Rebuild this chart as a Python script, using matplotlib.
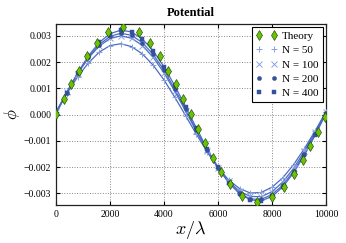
import matplotlib
matplotlib.use("Agg")
import matplotlib.pyplot as plt

# ---- data ----
theory_x = [12, 284, 556, 840, 1160, 1506, 1926, 2481, 3062, 3481, 3840, 4160, 4444,
            4716, 4988, 5259, 5519, 5802, 6111, 6457, 6877, 7432, 8012, 8457, 8802,
            9136, 9420, 9691, 9975]
theory_y = [0.00004, 0.00060, 0.00116, 0.00167, 0.00223, 0.00271, 0.00313, 0.00334,
            0.00313, 0.00271, 0.00223, 0.00167, 0.00116, 0.00060, 0.00004, -0.00055,
            -0.00108, -0.00164, -0.00218, -0.00266, -0.00310, -0.00334, -0.00316,
            -0.00276, -0.00228, -0.00175, -0.00121, -0.00068, -0.00011]

sim_x = [0, 400, 800, 1200, 1600, 2000, 2400, 2800, 3200, 3600, 4000, 4400, 4800,
         5200, 5600, 6000, 6400, 6800, 7200, 7600, 8000, 8400, 8800, 9200, 9600, 10000]
n50_y = [0.00010, 0.00080, 0.00144, 0.00197, 0.00238, 0.00263, 0.00270, 0.00259,
         0.00231, 0.00188, 0.00132, 0.00066, -0.00004, -0.00075, -0.00143, -0.00202,
         -0.00250, -0.00282, -0.00299, -0.00297, -0.00277, -0.00241, -0.00191,
         -0.00130, -0.00062, 0.00010]
n100_y = [0.00010, 0.00086, 0.00156, 0.00216, 0.00261, 0.00290, 0.00300, 0.00291,
          0.00263, 0.00218, 0.00159, 0.00089, 0.00013, -0.00064, -0.00137, -0.00202,
          -0.00255, -0.00293, -0.00312, -0.00313, -0.00294, -0.00257, -0.00205,
          -0.00140, -0.00067, 0.00010]
n200_y = [0.00005, 0.00084, 0.00157, 0.00219, 0.00267, 0.00298, 0.00310, 0.00302,
          0.00274, 0.00229, 0.00169, 0.00097, 0.00020, -0.00060, -0.00136, -0.00204,
          -0.00260, -0.00300, -0.00322, -0.00323, -0.00305, -0.00269, -0.00215,
          -0.00149, -0.00074, 0.00005]
n400_y = [0.00003, 0.00083, 0.00159, 0.00224, 0.00275, 0.00308, 0.00322, 0.00315,
          0.00288, 0.00243, 0.00182, 0.00110, 0.00030, -0.00051, -0.00130, -0.00201,
          -0.00259, -0.00302, -0.00325, -0.00329, -0.00312, -0.00276, -0.00222,
          -0.00155, -0.00079, 0.00003]

labels = ["Theory", "N = 50", "N = 100", "N = 200", "N = 400"]
xticks = [0, 2000, 4000, 6000, 8000, 10000]
yticks = [-0.003, -0.002, -0.001, 0.000, 0.001, 0.002, 0.003]

# ---- style ----
plt.rcParams['font.family'] = ['Liberation Serif', 'DejaVu Serif']
plt.rcParams['mathtext.fontset'] = 'cm'
plt.rcParams['axes.unicode_minus'] = True

fig = plt.figure(figsize=(3.46, 2.43), dpi=100)
ax = fig.add_axes([0.162, 0.156, 0.780, 0.745])

line_col = '#4a6cc2'
light = '#8aa2e0'
dark = '#34519c'

series = [
    (n50_y, '+', light, 5.0, labels[1]),
    (n100_y, 'x', light, 4.5, labels[2]),
    (n200_y, 'o', dark, 3.0, labels[3]),
    (n400_y, 's', dark, 3.0, labels[4]),
]

handles = []
for ys, mk, col, ms, lab in series:
    ax.plot(sim_x, ys, '-', color=line_col, lw=0.9, zorder=2)
for ys, mk, col, ms, lab in series:
    h, = ax.plot(sim_x, ys, linestyle='none', marker=mk, color=col, ms=ms,
                 mew=0.7 if mk in '+x' else 0.3, mec=col, label=lab, zorder=3)
    handles.append(h)

th, = ax.plot(theory_x, theory_y, linestyle='none', marker='d', ms=5.5,
              mfc='#66c400', mec='#1a3300', mew=0.4, label=labels[0], zorder=4)

ax.set_xlim(0, 10000)
ax.set_ylim(-0.00345, 0.00345)
ax.set_xticks(xticks)
ax.set_yticks(yticks)
ax.set_yticklabels([f"{v:.3f}".replace('-', '\u2212') for v in yticks])
ax.tick_params(direction='in', top=True, right=True, labelsize=7, length=3,
               width=0.8, pad=3.5)
ax.grid(True, linestyle=':', color='#888888', lw=0.7)
for s in ax.spines.values():
    s.set_linewidth(0.9)
    s.set_color('#222222')

ax.set_title("Potential", fontsize=9, fontweight='bold', pad=6)
ax.set_xlabel(r"$x/\lambda$", fontsize=13, labelpad=0)
ax.set_ylabel(r"$\phi$", fontsize=12)
ax.yaxis.set_label_coords(-0.125, 0.5)

leg = ax.legend([th] + handles, labels, loc='upper right', numpoints=2,
                fontsize=8, frameon=True, fancybox=False, framealpha=1,
                edgecolor='black', borderpad=0.35, labelspacing=0.4,
                handlelength=1.9, handletextpad=0.45, borderaxespad=0.3)
leg.get_frame().set_linewidth(0.8)

fig.savefig("out.png", dpi=100)
